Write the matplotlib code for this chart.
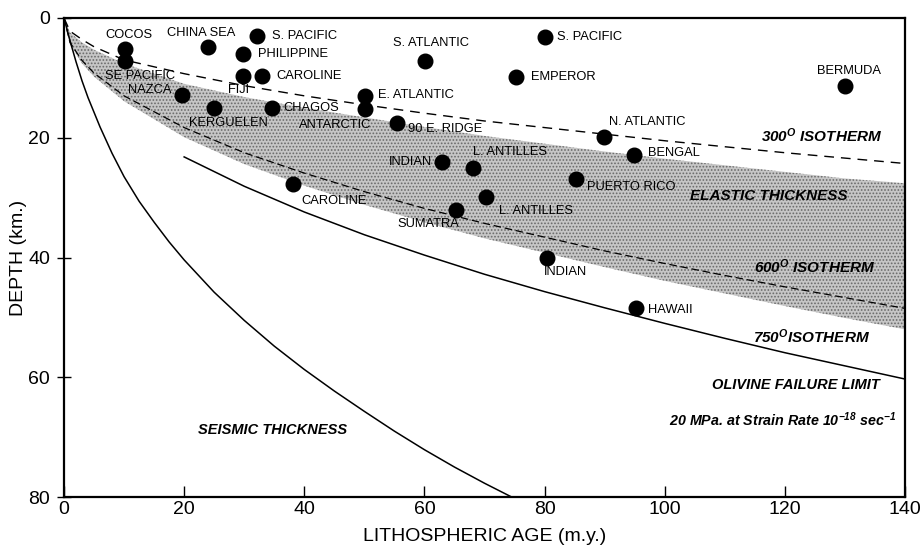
import matplotlib
matplotlib.use('Agg')
import matplotlib.pyplot as plt

plt.rcParams['font.family'] = ['Liberation Sans', 'DejaVu Sans']
plt.rcParams['mathtext.fontset'] = 'custom'
plt.rcParams['mathtext.rm'] = 'Liberation Sans:italic:bold'
plt.rcParams['mathtext.it'] = 'Liberation Sans:italic:bold'
plt.rcParams['mathtext.bf'] = 'Liberation Sans:italic:bold'
plt.rcParams['hatch.linewidth'] = 0.8

# model curves (age m.y., depth km)
curve_age = [0, 1, 3, 5, 10, 20, 30, 40, 50, 60, 70, 80, 90, 100, 110, 120, 130, 140]
iso300 = [0, 2.2, 3.6, 4.8, 7.0, 9.3, 11.3, 13.0, 14.5, 15.9, 17.2, 18.3, 19.4, 20.5, 21.5, 22.5, 23.4, 24.3]
iso600 = [0, 4.1, 7.1, 9.2, 13.0, 18.3, 22.5, 25.9, 29.0, 31.8, 34.3, 36.6, 38.9, 41.0, 43.0, 44.9, 46.7, 48.5]
elastic_top = [0, 2.4, 4.1, 5.3, 7.6, 11.0, 13.2, 15.0, 16.6, 18.2, 19.7, 21.0, 22.3, 23.5, 24.6, 25.7, 26.8, 27.6]
elastic_bot = [0, 4.4, 7.6, 9.8, 13.9, 19.9, 24.4, 28.0, 31.2, 34.1, 36.8, 39.2, 41.6, 43.9, 46.0, 48.1, 50.1, 52.0]

iso750_age = [20, 30, 40, 50, 60, 70, 80, 90, 100, 110, 120, 130, 140]
iso750 = [23.2, 28.1, 32.4, 36.2, 39.6, 42.8, 45.7, 48.4, 51.0, 53.5, 55.9, 58.1, 60.3]

seis_age = [0, 1, 2, 3, 4, 6, 8, 10, 12.5, 15, 17.5, 20, 25, 30, 35, 40, 45, 50, 55, 60, 65, 70, 75.3]
seis_depth = [0, 3.8, 7.3, 10.5, 13.3, 18.2, 22.6, 26.5, 30.6, 34.1, 37.4, 40.4, 45.8, 50.5,
              54.8, 58.7, 62.3, 65.7, 69.0, 72.1, 75.0, 77.7, 80.4]

# observed elastic thickness points
pt_age = [10.1, 10.1, 24.0, 32.2, 29.8, 29.8, 32.9, 19.7, 24.9, 34.7, 50.1, 50.1, 55.4, 60.1,
          80.1, 75.2, 63.0, 68.1, 85.2, 89.9, 94.9, 130.0, 95.2, 38.1, 65.2, 70.3, 80.4]
pt_depth = [5.2, 7.2, 4.9, 3.0, 6.0, 9.7, 9.7, 12.9, 15.0, 15.1, 13.0, 15.2, 17.5, 7.1,
            3.1, 9.9, 24.0, 25.0, 26.9, 19.8, 22.9, 11.35, 48.5, 27.7, 32.1, 29.9, 40.0]

# site names: (text, x, y, horizontal alignment)
site_labels = [
    ('COCOS', 10.8, 2.8, 'center'), ('CHINA SEA', 22.8, 2.5, 'center'),
    ('S. PACIFIC', 34.6, 3.0, 'left'), ('PHILIPPINE', 32.3, 6.0, 'left'),
    ('CAROLINE', 35.3, 9.7, 'left'), ('FIJI', 29.0, 12.0, 'center'),
    ('SE PACIFIC', 12.7, 9.7, 'center'), ('NAZCA', 14.3, 12.0, 'center'),
    ('KERGUELEN', 27.4, 17.5, 'center'), ('CHAGOS', 36.6, 15.1, 'left'),
    ('E. ATLANTIC', 52.3, 12.8, 'left'), ('ANTARCTIC', 45.1, 17.9, 'center'),
    ('90 E. RIDGE', 57.2, 18.6, 'left'), ('S. ATLANTIC', 61.1, 4.2, 'center'),
    ('S. PACIFIC', 82.1, 3.1, 'left'), ('EMPEROR', 77.7, 9.9, 'left'),
    ('INDIAN', 61.3, 24.0, 'right'), ('L. ANTILLES', 74.3, 22.3, 'center'),
    ('PUERTO RICO', 87.1, 28.2, 'left'), ('N. ATLANTIC', 97.1, 17.3, 'center'),
    ('BENGAL', 97.3, 22.6, 'left'), ('BERMUDA', 130.6, 8.8, 'center'),
    ('HAWAII', 97.3, 48.7, 'left'), ('CAROLINE', 45.0, 30.6, 'center'),
    ('SUMATRA', 60.7, 34.4, 'center'), ('L. ANTILLES', 78.5, 32.3, 'center'),
    ('INDIAN', 83.5, 42.5, 'center'),
]

fig = plt.figure(figsize=(9.23, 5.47), dpi=100)
ax = fig.add_axes([64 / 923, 50 / 547, 841 / 923, 479 / 547])

ax.fill_between(curve_age, elastic_top, elastic_bot, facecolor='#c6c6c6',
                edgecolor='#6a6a6a', hatch='.....', linewidth=0, zorder=1)
ax.plot(curve_age, iso300, color='black', lw=1.0, dashes=(7, 5), zorder=2)
ax.plot(curve_age, iso600, color='black', lw=0.9, dashes=(6, 3), zorder=2)
ax.plot(iso750_age, iso750, color='black', lw=1.1, zorder=2)
ax.plot(seis_age, seis_depth, color='black', lw=1.1, zorder=2)
ax.plot(pt_age, pt_depth, 'o', color='black', ms=10.5, zorder=3)

for txt, x, y, ha in site_labels:
    ax.text(x, y, txt, ha=ha, va='center', fontsize=9.3, zorder=4)

big = dict(fontsize=11, fontweight='bold', style='italic', va='center', zorder=4)
ax.text(126.2, 19.7, r'300$^{\mathrm{O}}$ ISOTHERM', ha='center', **big)
ax.text(117.3, 29.7, 'ELASTIC THICKNESS', ha='center', **big)
ax.text(124.9, 41.5, r'600$^{\mathrm{O}}$ ISOTHERM', ha='center', **big)
ax.text(124.4, 53.2, r'750$^{\mathrm{O}}$ISOTHERM', ha='center', **big)
ax.text(135.8, 61.3, 'OLIVINE FAILURE LIMIT', ha='right', fontsize=10.5,
        fontweight='bold', style='italic', va='center')
ax.text(138.6, 67.1, r'20 MPa. at Strain Rate 10$^{-18}$ sec$^{-1}$', ha='right',
        fontsize=10.3, fontweight='bold', style='italic', va='center')
ax.text(34.7, 68.8, 'SEISMIC THICKNESS', ha='center', fontsize=10.5,
        fontweight='bold', style='italic', va='center')

ax.set_xlim(0, 140)
ax.set_ylim(80, 0)
ax.set_xticks([0, 20, 40, 60, 80, 100, 120, 140])
ax.set_yticks([0, 20, 40, 60, 80])
ax.tick_params(axis='x', direction='in', length=8, width=1, pad=3, labelsize=14)
ax.tick_params(axis='y', direction='inout', length=10, width=1, pad=5, labelsize=14)
for s in ax.spines.values():
    s.set_linewidth(1.6)
ax.set_xlabel('LITHOSPHERIC AGE (m.y.)', fontsize=14, labelpad=7)
ax.set_ylabel('DEPTH (km.)', fontsize=14, labelpad=1)

plt.savefig('out.png', dpi=100)
